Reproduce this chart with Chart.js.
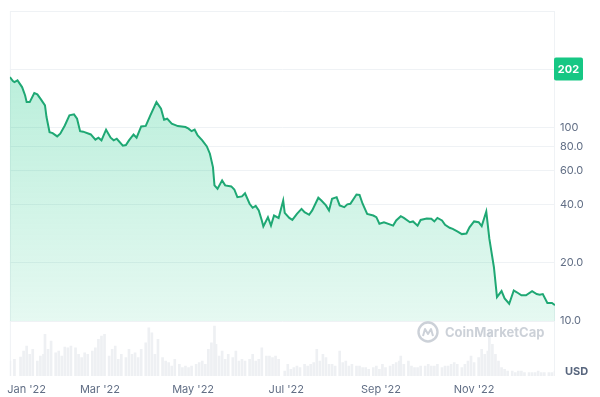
<!DOCTYPE html>
<html>
<head>
<meta charset="utf-8">
<script src="https://cdn.jsdelivr.net/npm/chart.js@4.4.1/dist/chart.umd.min.js"></script>
<style>
  html, body { margin: 0; padding: 0; background: #fff; }
</style>
</head>
<body>
<canvas id="priceChart" width="600" height="397"></canvas>
<script>
// 価格 (日数 = 2022/1/1 からの経過日)
const priceDays = [0,2,3,5,8,10,11,13,16,18,20,23,24,26,28,31,33,36,39,42,44,46,48,53,56,58,60,63,66,68,70,74,76,78,81,83,86,89,92,96,99,101,103,106,110,115,117,119,121,123,126,129,131,133,134,136,139,141,145,147,149,152,154,157,159,161,163,165,166,169,171,173,176,179,180,183,185,188,191,193,196,198,202,204,207,209,211,214,216,219,221,223,227,229,231,234,238,240,242,245,251,253,256,258,262,264,267,269,273,276,278,280,283,285,288,290,293,296,299,301,304,307,309,312,314,317,319,322,324,327,330,332,335,338,342,345,347,349,352,355,357];
const priceValues = [183.4,174.8,172.7,176.3,162.7,147.3,136.0,136.0,151.4,149.1,141.7,130.8,113.8,95.1,94.0,90.4,93.3,103.0,116.1,117.5,111.6,96.2,95.6,92.5,86.9,89.0,86.2,97.9,89.0,86.2,87.9,80.9,81.5,86.2,92.5,89.0,101.8,102.4,116.1,136.0,125.8,110.3,111.6,105.1,102.2,101.0,99.1,96.2,97.9,91.4,86.2,80.2,73.5,62.7,50.4,48.4,53.5,50.4,49.8,48.0,43.8,44.2,45.9,40.5,38.6,39.5,37.4,33.2,30.9,34.5,31.2,35.2,34.2,42.1,36.3,34.2,33.4,35.9,38.1,36.6,35.5,37.4,43.5,42.1,39.7,37.4,43.0,43.8,39.7,38.9,40.2,40.5,45.2,45.0,40.5,35.9,35.2,34.5,31.9,32.5,31.2,33.2,34.9,34.2,32.5,32.8,31.2,33.4,34.0,33.9,32.8,34.2,33.2,31.5,30.4,30.0,29.1,28.2,28.4,30.6,32.8,32.5,31.0,36.9,26.7,19.0,13.3,14.3,13.1,12.3,14.4,14.1,13.6,13.6,14.3,13.8,13.7,13.8,12.4,12.4,12.1];

// 出来高
const volumeDays = [0,3,7,9,11,13,15,18,20,22,23,25,27,30,32,34,36,38,40,43,45,47,49,51,54,56,58,60,62,65,67,69,71,73,76,78,80,82,84,86,89,91,93,95,97,100,102,104,106,108,111,113,115,117,119,122,124,126,128,130,132,134,135,137,139,141,143,146,148,150,152,154,157,159,161,163,165,168,170,172,174,176,180,182,184,186,188,190,193,195,197,199,201,203,205,207,209,211,213,216,218,220,222,224,227,229,231,233,235,238,240,242,244,246,249,251,253,255,256,258,261,263,265,267,269,272,274,276,278,280,283,285,287,289,291,293,296,298,300,302,304,307,309,311,313,314,316,318,320,322,324,326,329,331,333,335,337,340,342,344,346,348,350,353,355,357];
const volumeValues = [45,50,57,75,90,65,80,45,60,65,125,80,105,70,75,60,87,85,90,85,65,55,70,65,75,85,110,120,125,60,80,90,50,65,55,80,65,70,55,80,100,145,130,65,110,55,45,40,30,50,35,25,30,25,30,35,40,45,35,80,100,150,95,60,75,50,65,55,75,45,50,45,50,65,45,50,85,60,60,55,60,50,15,35,20,25,30,25,35,30,35,40,80,45,65,55,35,35,30,75,40,45,30,35,30,30,25,25,20,25,30,20,35,25,30,35,40,45,60,35,45,30,25,25,30,30,35,30,30,35,25,30,30,35,40,35,25,35,45,60,40,55,80,65,75,135,95,65,45,25,20,15,15,10,15,15,10,10,10,10,15,10,10,10,10,15];

// 軸の目盛り
const monthTickDays = [11, 59, 120, 181, 243, 304];
const monthLabels = ["Jan '22", "Mar '22", "May '22", "Jul '22", "Sep '22", "Nov '22"];
const priceTicks = [10, 20, 40, 60, 80, 100, 200, 400];
const priceTickLabels = ['10.0', '20.0', '40.0', '60.0', '80.0', '100', '', ''];
const badgeValue = 202;

const GREEN = '#16c784';
const TICK_COLOR = '#616e85';
const FONT = 'Inter, "Noto Sans", sans-serif';

const decorPlugin = {
    id: 'decor',
    beforeDatasetsDraw(chart) {
        const { ctx, chartArea: a } = chart;
        ctx.save();
        ctx.strokeStyle = '#eff2f5';
        ctx.lineWidth = 1;
        ctx.beginPath();
        ctx.moveTo(a.left + 0.5, a.top);
        ctx.lineTo(a.left + 0.5, a.bottom);
        ctx.moveTo(a.right - 0.5, a.top);
        ctx.lineTo(a.right - 0.5, a.bottom);
        ctx.stroke();
        ctx.restore();
    },
    afterDatasetsDraw(chart) {
        const { ctx, chartArea: a } = chart;
        // ウォーターマーク
        ctx.save();
        ctx.globalAlpha = 0.45;
        ctx.strokeStyle = '#8f98a8';
        ctx.fillStyle = '#8f98a8';
        const cx = a.right - 127, cy = a.bottom - 44;
        ctx.lineWidth = 2.4;
        ctx.beginPath();
        ctx.arc(cx, cy, 9.5, 0, Math.PI * 2);
        ctx.stroke();
        ctx.lineWidth = 2;
        ctx.lineJoin = 'round';
        ctx.beginPath();
        ctx.moveTo(cx - 5, cy + 4);
        ctx.lineTo(cx - 3, cy - 3);
        ctx.lineTo(cx, cy + 2);
        ctx.lineTo(cx + 3, cy - 3);
        ctx.lineTo(cx + 5, cy + 4);
        ctx.stroke();
        ctx.font = 'bold 13px ' + FONT;
        ctx.textBaseline = 'middle';
        ctx.textAlign = 'left';
        ctx.fillText('CoinMarketCap', cx + 17, cy + 1);
        ctx.restore();
    },
    afterDraw(chart) {
        const { ctx, chartArea: a, scales } = chart;
        ctx.save();
        // 価格バッジ
        const by = scales.y.getPixelForValue(badgeValue);
        ctx.fillStyle = GREEN;
        ctx.beginPath();
        ctx.roundRect(a.right - 1, by - 11.5, 29, 23, 2);
        ctx.fill();
        ctx.fillStyle = '#fff';
        ctx.font = 'bold 11px ' + FONT;
        ctx.textAlign = 'center';
        ctx.textBaseline = 'middle';
        ctx.fillText(String(badgeValue), a.right + 13.5, by + 0.5);
        // USD
        ctx.fillStyle = '#58667e';
        ctx.textAlign = 'left';
        ctx.fillText('USD', a.right + 10, a.bottom - 4);
        ctx.restore();
    }
};

const ctx = document.getElementById('priceChart').getContext('2d');
const chart = new Chart(ctx, {
    type: 'line',
    data: {
        datasets: [{
            label: 'Price',
            data: priceDays.map((d, i) => ({ x: d, y: priceValues[i] })),
            borderColor: '#1fa874',
            borderWidth: 2,
            pointRadius: 0,
            tension: 0,
            fill: 'start',
            yAxisID: 'y',
            backgroundColor: (c) => {
                const s = c.chart.scales.y;
                if (!c.chart.chartArea || !s || !isFinite(s.top) || !isFinite(s.bottom)) {
                    return 'rgba(22,199,132,0.2)';
                }
                const g = c.chart.ctx.createLinearGradient(0, s.top, 0, s.bottom);
                g.addColorStop(0, 'rgba(22,199,132,0.34)');
                g.addColorStop(1, 'rgba(22,199,132,0.11)');
                return g;
            }
        }, {
            type: 'bar',
            label: 'Volume',
            data: volumeDays.map((d, i) => ({ x: d, y: volumeValues[i] })),
            backgroundColor: '#eef0f3',
            barThickness: 2,
            yAxisID: 'yv'
        }]
    },
    options: {
        responsive: false,
        animation: false,
        layout: { padding: { left: 9, top: 11, right: 0, bottom: 0 } },
        plugins: { legend: { display: false }, tooltip: { enabled: false } },
        scales: {
            x: {
                type: 'linear',
                min: 0,
                max: 357,
                offset: false,
                grid: { display: false, offset: false, drawTicks: false },
                border: { display: false },
                afterBuildTicks: (s) => { s.ticks = monthTickDays.map(v => ({ value: v })); },
                afterFit: (s) => { s.height = 21; },
                ticks: {
                    autoSkip: false,
                    maxRotation: 0,
                    padding: 7,
                    color: TICK_COLOR,
                    font: { size: 11, family: FONT },
                    callback: (v) => monthLabels[monthTickDays.indexOf(v)]
                }
            },
            y: {
                type: 'logarithmic',
                position: 'right',
                stack: 'main',
                stackWeight: 310,
                min: 10,
                max: 400,
                grid: { color: '#eff2f5', drawTicks: false },
                border: { display: false },
                afterBuildTicks: (s) => { s.ticks = priceTicks.map(v => ({ value: v })); },
                afterFit: (s) => { s.width = 45; },
                ticks: {
                    padding: 5,
                    color: TICK_COLOR,
                    font: { size: 11, family: FONT },
                    callback: (v) => priceTickLabels[priceTicks.indexOf(v)]
                }
            },
            yv: {
                type: 'linear',
                position: 'right',
                stack: 'main',
                stackWeight: 55,
                min: 0,
                max: 165,
                grid: { display: false },
                border: { display: false },
                ticks: { display: false },
                afterFit: (s) => { s.width = 45; }
            }
        }
    },
    plugins: [decorPlugin]
});
</script>
</body>
</html>
